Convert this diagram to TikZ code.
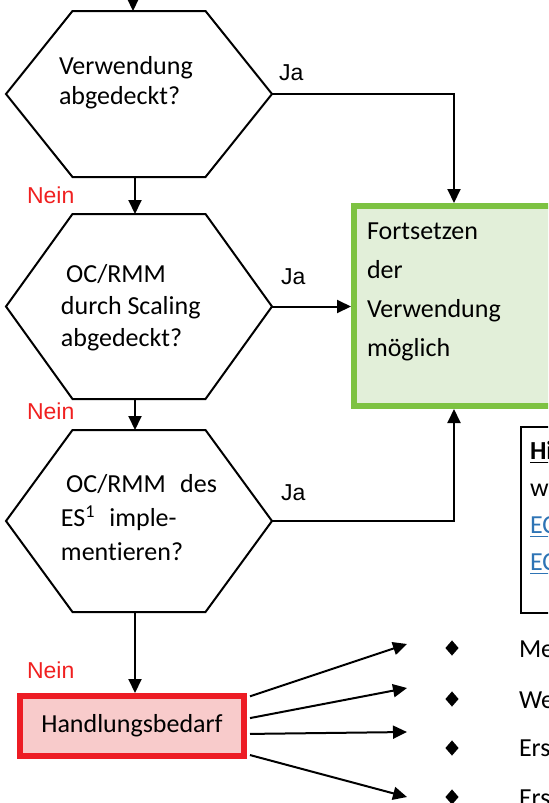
\documentclass[tikz,border=0pt]{standalone}
\usepackage{fontspec}
\setmainfont{Carlito}[Ligatures=CommonOff]
\newfontfamily\arialfont{Liberation Sans}
\usetikzlibrary{positioning, arrows.meta, calc, shapes.geometric}

\definecolor{okgreen}{RGB}{125,194,66}
\definecolor{okfill}{RGB}{226,239,217}
\definecolor{alarmred}{RGB}{237,28,36}
\definecolor{alarmfill}{RGB}{248,203,203}
\definecolor{neinred}{RGB}{240,32,32}
\definecolor{linkblue}{RGB}{46,116,181}

% six-cornered outline around an (empty) node
\newcommand{\hexpath}[1]{%
    \draw ($(#1.west)$) -- ($(#1.north west)!0.25!(#1.north east)$) -- ($(#1.north west)!0.75!(#1.north east)$)
        -- (#1.east) -- ($(#1.south west)!0.75!(#1.south east)$) -- ($(#1.south west)!0.25!(#1.south east)$) -- cycle;}

\begin{document}
\begin{tikzpicture}[
    x=0.5pt, y=-0.5pt,
    line width=1pt,
    hexbox/.style={minimum width=133pt, inner sep=0, outer sep=0},
    textblock/.style={inner sep=0, anchor=north west, align=left},
    okbox/.style={draw=okgreen, fill=okfill, line width=3pt, minimum width=100pt, minimum height=100pt},
    alarmbox/.style={draw=alarmred, fill=alarmfill, line width=3pt, minimum width=112pt, minimum height=30pt,
        font=\fontsize{13}{15}\selectfont},
    hintbox/.style={draw, line width=1pt, anchor=north west, minimum width=60pt, minimum height=93pt},
    jalabel/.style={inner sep=0, anchor=base west, font=\arialfont\fontsize{11.5}{13}\selectfont},
    neinlabel/.style={jalabel, text=neinred},
    bullet/.style={diamond, fill, inner sep=0, minimum width=7pt, minimum height=8pt},
    itemtext/.style={inner sep=0, anchor=base west, font=\fontsize{13}{15}\selectfont},
    arr/.style={-{Triangle[length=7pt, width=6.5pt]}}
]{
    \path[use as bounding box] (0,0) rectangle (548,803);
    \clip (0,0) rectangle (548,803);

    % decisions
    \node[hexbox, minimum height=83pt](verw) at (139, 94){};
    \node[hexbox, minimum height=92.5pt](scal) at (139, 306.5){};
    \node[hexbox, minimum height=91pt](impl) at (139, 521){};
    \hexpath{verw}
    \hexpath{scal}
    \hexpath{impl}

    \node[textblock, font=\fontsize{13}{15}\selectfont](verw_text) at (58, 55){Verwendung\\abgedeckt?};
    \node[textblock, font=\fontsize{13}{16}\selectfont](scal_text) at (60, 263){\hspace{0.2em}OC/RMM\\durch Scaling\\abgedeckt?};
    \node[textblock, font=\fontsize{13}{17}\selectfont](impl_text) at (60, 473){\hspace{0.2em}OC/RMM\hspace{0.55em}des\\ES\textsuperscript{1}\hspace{0.53em}imple-\\mentieren?};

    % outcomes
    \node[okbox](weiter) at (454, 306){};
    \node[textblock, font=\fontsize{13}{19.5}\selectfont](weiter_text) at (366, 222){Fortsetzen\\der\\Verwendung\\möglich};

    \node[alarmbox](bedarf) at (132, 726){Handlungsbedarf};

    \node[hintbox](hinweis) at (520, 426){};
    \node[textblock, font=\fontsize{13}{18.5}\selectfont](hinweis_text) at (529, 440){\underline{\textbf{Hi}}\\w\\\textcolor{linkblue}{\underline{EC}}\\\textcolor{linkblue}{\underline{EC}}};

    % list on the right
    \node[bullet](b1) at (452, 648){};
    \node[bullet](b2) at (452, 699){};
    \node[bullet](b3) at (452, 748){};
    \node[bullet](b4) at (452, 797){};
    \node[itemtext](t1) at (518, 657){Me};
    \node[itemtext](t2) at (518, 708){We};
    \node[itemtext](t3) at (518, 756){Ers};
    \node[itemtext](t4) at (518, 806){Ers};

    \coordinate(entry) at (133, -5);
    \coordinate(tip1) at (407, 644);
    \coordinate(tip2) at (407, 688);
    \coordinate(tip3) at (407, 732);
    \coordinate(tip4) at (407, 797);

    % Nein path
    \draw[arr](entry) -- (entry |- verw.north);
    \draw[arr]([xshift=-2pt]verw.south) -- ([xshift=-2pt]scal.north);
    \draw[arr]([xshift=-2pt]scal.south) -- ([xshift=-2pt]impl.north);
    \draw[arr]([xshift=-2pt]impl.south) -- ([xshift=-2pt]impl.south |- bedarf.north);
    \node[neinlabel](nein1) at (26, 203){Nein};
    \node[neinlabel](nein2) at (26, 419){Nein};
    \node[neinlabel](nein3) at (26, 678){Nein};

    % Ja path
    \draw[arr](verw.east) -| (weiter.north);
    \draw[arr](scal.east) -- (scal.east -| weiter.west);
    \draw[arr](impl.east) -| (weiter.south);
    \node[jalabel](ja1) at ([shift={(3pt, 7pt)}]verw.east){Ja};
    \node[jalabel](ja2) at ([shift={(4pt, 11pt)}]scal.east){Ja};
    \node[jalabel](ja3) at ([shift={(4pt, 10.5pt)}]impl.east){Ja};

    \draw[arr]($(bedarf.north east)!0.05!(bedarf.south east) + (1.5pt, 0)$) -- (tip1);
    \draw[arr]($(bedarf.north east)!0.38!(bedarf.south east) + (1.5pt, 0)$) -- (tip2);
    \draw[arr]($(bedarf.north east)!0.62!(bedarf.south east) + (1.5pt, 0)$) -- (tip3);
    \draw[arr]($(bedarf.north east)!0.94!(bedarf.south east) + (1.5pt, 0)$) -- (tip4);
}
\end{tikzpicture}
\end{document}
